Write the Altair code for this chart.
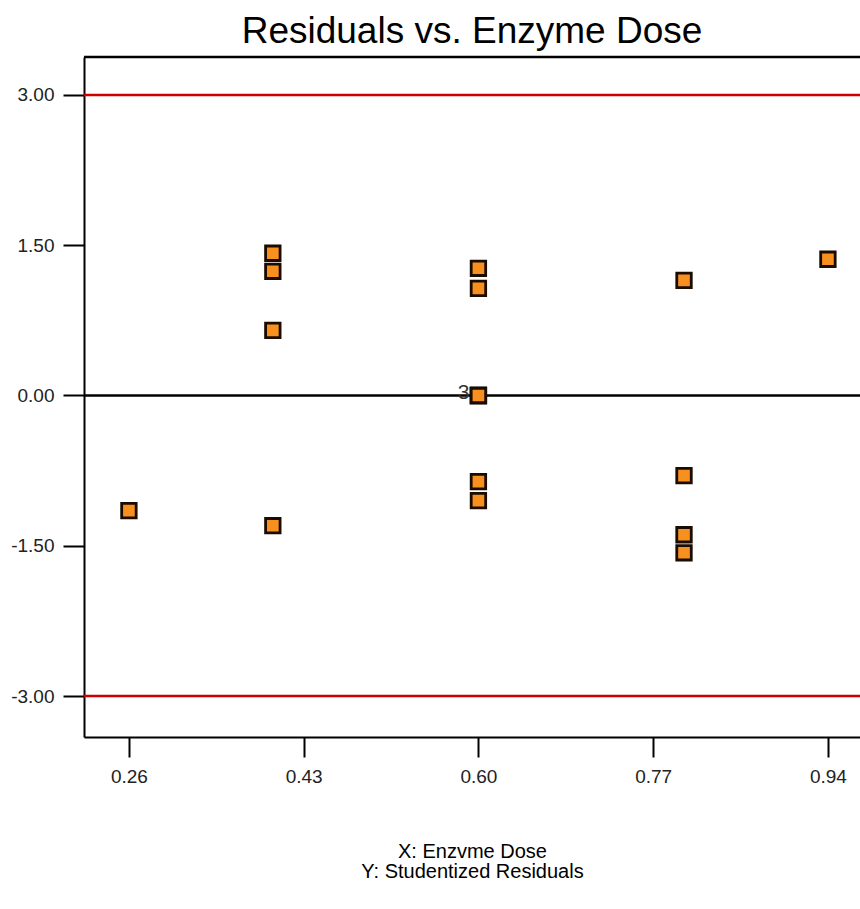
import altair as alt
import pandas as pd

# ---- data ----
dose = [0.26,
        0.40, 0.40, 0.40, 0.40,
        0.60, 0.60, 0.60, 0.60, 0.60, 0.60, 0.60,
        0.80, 0.80, 0.80, 0.80,
        0.94]
resid = [-1.15,
         1.42, 1.24, 0.65, -1.30,
         1.27, 1.07, 0.00, 0.00, 0.00, -0.86, -1.05,
         1.15, -0.80, -1.39, -1.57,
         1.36]
limit_lines = [3.0, -3.0]
zero_line = [0.0]
x_ticks = [0.26, 0.43, 0.60, 0.77, 0.94]
y_ticks = [-3.0, -1.5, 0.0, 1.5, 3.0]
count_label_x = [0.60]
count_label_y = [0.0]
count_label = ["3"]

X_DOMAIN = [0.2163, 0.9712]
Y_DOMAIN = [-3.409, 3.379]

df = pd.DataFrame({"dose": dose, "resid": resid})
lim_df = pd.DataFrame({"y": limit_lines})
zero_df = pd.DataFrame({"y": zero_line})
lab_df = pd.DataFrame({"x": count_label_x, "y": count_label_y, "t": count_label})

NARROW = "Liberation Sans Narrow, Arial Narrow, Liberation Sans"
SANS = "Liberation Sans, Arial, sans-serif"
LABEL_EXPR = "replace(format(datum.value, '.2f'), '\u2212', '-')"

xscale = alt.Scale(domain=X_DOMAIN, nice=False, zero=False)
yscale = alt.Scale(domain=Y_DOMAIN, nice=False, zero=False)

xaxis = alt.Axis(values=x_ticks, labelExpr=LABEL_EXPR, grid=False,
                 domainColor="black", domainWidth=2,
                 tickColor="black", tickWidth=2, tickSize=20,
                 labelFont=NARROW, labelFontSize=19, labelColor="#222222",
                 labelPadding=10,
                 title=["X: Enzvme Dose", "Y: Studentized Residuals"],
                 titleFont=SANS, titleFontSize=20, titleFontWeight="normal",
                 titleColor="black", titleLineHeight=20, titlePadding=55)
yaxis = alt.Axis(values=y_ticks, labelExpr=LABEL_EXPR, grid=False,
                 domainColor="black", domainWidth=2,
                 tickColor="black", tickWidth=2, tickSize=21,
                 labelFont=NARROW, labelFontSize=19, labelColor="#222222",
                 labelPadding=9, title=None)

points = alt.Chart(df).mark_square(
    size=210, color="#F7901E", opacity=1, stroke="#1a0c00", strokeWidth=2.8
).encode(
    x=alt.X("dose:Q", scale=xscale, axis=xaxis),
    y=alt.Y("resid:Q", scale=yscale, axis=yaxis),
)

red_rules = alt.Chart(lim_df).mark_rule(color="#CC0000", strokeWidth=2.5).encode(
    y=alt.Y("y:Q", scale=yscale)
)
zero_rule = alt.Chart(zero_df).mark_rule(color="black", strokeWidth=2.5).encode(
    y=alt.Y("y:Q", scale=yscale)
)
top_border = alt.Chart(zero_df).mark_rule(color="black", strokeWidth=2.5).encode(
    x=alt.value(0), x2=alt.value(776), y=alt.value(0)
)
count_text = alt.Chart(lab_df).mark_text(
    align="right", baseline="middle", dx=-9, dy=-2,
    font=SANS, fontSize=21, color="#333333"
).encode(
    x=alt.X("x:Q", scale=xscale),
    y=alt.Y("y:Q", scale=yscale),
    text="t:N",
)

chart = alt.layer(red_rules, zero_rule, top_border, points, count_text).properties(
    width=776,
    height=680,
    autosize=alt.AutoSizeParams(type="none"),
    padding={"left": 84, "top": 57, "right": 0, "bottom": 172},
    background="white",
    title=alt.TitleParams(
        "Residuals vs. Enzyme Dose", font=SANS, fontSize=37,
        fontWeight="normal", color="black", anchor="middle", offset=5,
    ),
).configure_view(strokeWidth=0)

chart.save("out.html", embed_options={"renderer": "svg", "actions": False})
